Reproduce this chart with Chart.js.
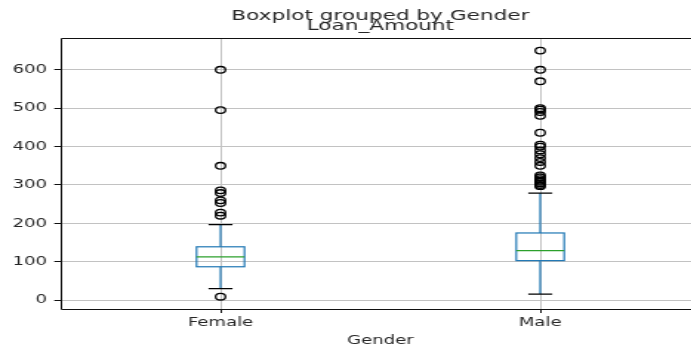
<!DOCTYPE html>
<html>
<head>
<meta charset="utf-8">
<script src="https://cdn.jsdelivr.net/npm/chart.js@4.4.1/dist/chart.umd.min.js"></script>
<style>
  html, body { margin: 0; padding: 0; background: #fff; overflow: hidden; width: 691px; height: 347px; }
  #wrap { width: 466.5px; height: 347px; overflow: hidden; transform: scaleX(1.48); transform-origin: 0 0; }
  canvas { display: block; }
</style>
</head>
<body>
<div id="wrap"><canvas id="chart" width="480" height="347"></canvas></div>
<script>
// Loan_Amount summary per gender
const categories   = ['Female', 'Male'];
const whiskerLow   = [30, 16];
const quartile1    = [87, 103];
const medians      = [113, 129];
const quartile3    = [139, 175];
const whiskerHigh  = [197, 279];
const femaleOutliers = [600, 495, 350, 286, 279, 260, 253, 228, 220, 9];
const maleOutliers   = [650, 600, 570, 500, 496, 490, 480, 436, 405, 400, 390, 380, 370, 360, 350,
                        325, 320, 315, 311, 308, 304, 300, 297];
const yTicks = [0, 100, 200, 300, 400, 500, 600];

const FONT = 'DejaVu Sans';
const TEXT = '#262626';

const outlierPoints = [];
[femaleOutliers, maleOutliers].forEach((arr, i) => {
  arr.forEach(v => outlierPoints.push({ x: i + 1, y: v }));
});

// Box, whiskers, caps and medians drawn through the chart's scales
const boxPlugin = {
  id: 'boxes',
  beforeDatasetsDraw(chart) {
    const { ctx, scales: { x, y } } = chart;
    const half = 0.075, capHalf = 0.0375;
    ctx.save();
    categories.forEach((c, i) => {
      const pos = i + 1;
      const xl = x.getPixelForValue(pos - half), xr = x.getPixelForValue(pos + half);
      const xc = x.getPixelForValue(pos);
      const cl = x.getPixelForValue(pos - capHalf), cr = x.getPixelForValue(pos + capHalf);
      const yq1 = y.getPixelForValue(quartile1[i]), yq3 = y.getPixelForValue(quartile3[i]);
      const ym = y.getPixelForValue(medians[i]);
      const ylo = y.getPixelForValue(whiskerLow[i]), yhi = y.getPixelForValue(whiskerHigh[i]);
      ctx.lineWidth = 1.2;
      ctx.strokeStyle = '#1f77b4';
      ctx.beginPath();
      ctx.moveTo(xc, yq3); ctx.lineTo(xc, yhi);
      ctx.moveTo(xc, yq1); ctx.lineTo(xc, ylo);
      ctx.stroke();
      ctx.strokeRect(xl, yq3, xr - xl, yq1 - yq3);
      ctx.strokeStyle = '#000';
      ctx.beginPath();
      ctx.moveTo(cl, yhi); ctx.lineTo(cr, yhi);
      ctx.moveTo(cl, ylo); ctx.lineTo(cr, ylo);
      ctx.stroke();
      ctx.strokeStyle = '#2ca02c';
      ctx.beginPath();
      ctx.moveTo(xl, ym); ctx.lineTo(xr, ym);
      ctx.stroke();
    });
    ctx.restore();
  },
  // axes spines: left, top, bottom
  afterDraw(chart) {
    const { ctx, chartArea: a } = chart;
    const l = Math.round(a.left) + 0.5, t = Math.round(a.top) + 0.5, b = Math.round(a.bottom) + 0.5;
    ctx.save();
    ctx.strokeStyle = '#111';
    ctx.lineWidth = 1;
    ctx.beginPath();
    ctx.moveTo(a.right, t); ctx.lineTo(l, t); ctx.lineTo(l, b); ctx.lineTo(a.right, b);
    ctx.stroke();
    ctx.restore();
  }
};

new Chart(document.getElementById('chart'), {
  type: 'scatter',
  data: {
    datasets: [{
      data: outlierPoints,
      pointStyle: 'circle',
      pointRadius: 3.3,
      pointBorderWidth: 1.3,
      pointBorderColor: '#000',
      pointBackgroundColor: 'rgba(0,0,0,0)'
    }]
  },
  options: {
    responsive: false,
    animation: false,
    devicePixelRatio: 1,
    layout: { padding: { left: 0, right: 7, top: 0, bottom: 0 } },
    plugins: {
      legend: { display: false },
      tooltip: { enabled: false },
      title: {
        display: true,
        text: 'Boxplot grouped by Gender',
        fullSize: false,
        color: TEXT,
        font: { family: FONT, size: 14.6, weight: 'normal', lineHeight: '13px' },
        padding: { top: 9.5, bottom: 0 }
      },
      subtitle: {
        display: true,
        text: 'Loan_Amount',
        fullSize: false,
        color: TEXT,
        font: { family: FONT, size: 14.6, weight: 'normal', lineHeight: '7px' },
        padding: { top: 0, bottom: 8.8 }
      }
    },
    scales: {
      x: {
        type: 'linear',
        min: 0.5,
        max: 2.5,
        afterBuildTicks: axis => { axis.ticks = categories.map((c, i) => ({ value: i + 1 })); },
        afterFit: axis => { axis.height = 38; },
        ticks: {
          callback: v => categories[v - 1],
          color: TEXT,
          font: { family: FONT, size: 12.2 },
          padding: 3,
          maxRotation: 0,
          autoSkip: false
        },
        grid: { color: '#c2c2c2', lineWidth: 1, tickLength: 4, tickColor: '#111', drawTicks: true },
        border: { display: false },
        title: {
          display: true,
          text: 'Gender',
          color: TEXT,
          font: { family: FONT, size: 12.2, lineHeight: 1 },
          padding: { top: 0, bottom: 0 }
        }
      },
      y: {
        type: 'linear',
        min: -23,
        max: 682,
        afterBuildTicks: axis => { axis.ticks = yTicks.map(v => ({ value: v })); },
        afterFit: axis => { axis.width = 41; },
        ticks: {
          color: TEXT,
          font: { family: FONT, size: 12.2 },
          padding: 5
        },
        grid: { color: '#c2c2c2', lineWidth: 1, tickLength: 4.3, tickColor: '#111', drawTicks: true },
        border: { display: false }
      }
    }
  },
  plugins: [boxPlugin]
});
</script>
</body>
</html>
